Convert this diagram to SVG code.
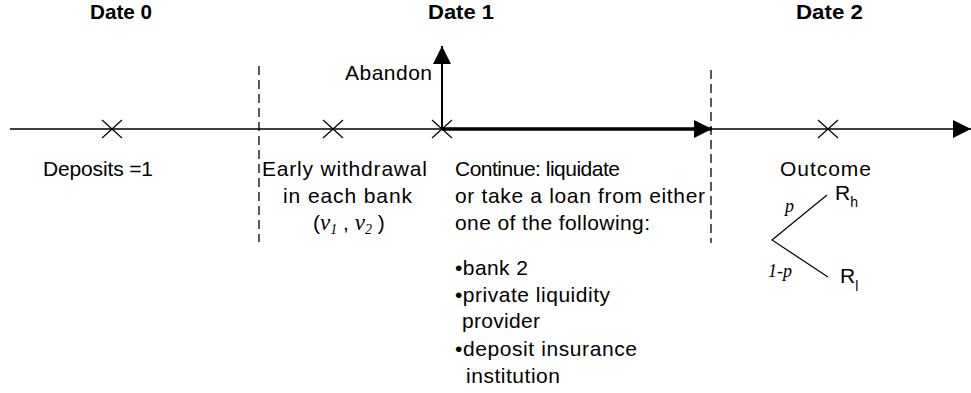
<svg xmlns="http://www.w3.org/2000/svg" width="971" height="393" viewBox="0 0 971 393">
<style>
  text { font-family: "Liberation Sans", Arial, sans-serif; font-size: 21px; fill: #000; }
  .date { font-weight: bold; font-size: 20px; }
  .axis { stroke: #000; stroke-width: 1.5; fill: none; }
  .thick { stroke: #000; stroke-width: 3.5; fill: none; }
  .dash { stroke: #000; stroke-width: 1.3; stroke-dasharray: 9 5; fill: none; }
  .cross { stroke: #000; stroke-width: 1.2; fill: none; }
  .tree { stroke: #000; stroke-width: 1.2; fill: none; }
  .math { font-family: "Liberation Serif", "Times New Roman", serif; font-style: italic; }
  .small { font-size: 18px; }
  .sub { font-size: 14px; }
</style>
<defs>
  <marker id="ah" markerWidth="18" markerHeight="18" viewBox="0 0 18 18" refX="18" refY="9" orient="auto" markerUnits="userSpaceOnUse">
    <path d="M0,0 L18,9 L0,18 Z" fill="#000"/>
  </marker>
</defs>

<g id="date-labels">
  <text class="date" x="90" y="19" textLength="62" lengthAdjust="spacingAndGlyphs">Date 0</text>
  <text class="date" x="428" y="19" textLength="66" lengthAdjust="spacingAndGlyphs">Date 1</text>
  <text class="date" x="796" y="19" textLength="67" lengthAdjust="spacingAndGlyphs">Date 2</text>
</g>

<g id="connectors">
  <line class="axis" x1="10" y1="129" x2="971" y2="129" marker-end="url(#ah)"/>
  <line class="thick" x1="442" y1="129" x2="712" y2="129" marker-end="url(#ah)"/>
  <line x1="442" y1="129" x2="442" y2="46" stroke="#000" stroke-width="2" marker-end="url(#ah)"/>
  <line class="dash" x1="259" y1="66" x2="259" y2="242"/>
  <line class="dash" x1="711" y1="70" x2="711" y2="243"/>
</g>

<g id="crosses">
  <path class="cross" d="M102,120 L122,138 M102,138 L122,120"/>
  <path class="cross" d="M323,120 L343,138 M323,138 L343,120"/>
  <path class="cross" d="M432,120 L452,138 M432,138 L452,120"/>
  <path class="cross" d="M818,120 L838,138 M818,138 L838,120"/>
</g>

<g id="abandon">
  <text x="345" y="80" textLength="87">Abandon</text>
</g>

<g id="deposits">
  <text x="43" y="176" textLength="110">Deposits =1</text>
</g>

<g id="early-withdrawal">
  <text x="262" y="176" textLength="165">Early withdrawal</text>
  <text x="283" y="203" textLength="129">in each bank</text>
  <text x="313" y="230">(<tspan class="math" font-size="23px">v</tspan><tspan class="math sub" dy="4">1</tspan><tspan dy="-4"> , </tspan><tspan class="math" font-size="23px">v</tspan><tspan class="math sub" dy="4">2</tspan><tspan dy="-4"> )</tspan></text>
</g>

<g id="continue">
  <text x="455" y="176" textLength="165">Continue: liquidate</text>
  <text x="455" y="203" textLength="250">or take a loan from either</text>
  <text x="455" y="230" textLength="195">one of the following:</text>
  <text x="455" y="275" textLength="73">•bank 2</text>
  <text x="455" y="302" textLength="155">•private liquidity</text>
  <text x="462" y="328" textLength="78">provider</text>
  <text x="455" y="356" textLength="182">•deposit insurance</text>
  <text x="466" y="383" textLength="94">institution</text>
</g>

<g id="outcome">
  <text x="780" y="176" textLength="91">Outcome</text>
  <path class="tree" d="M827,195 L772,240 L828,277"/>
  <text class="math small" x="785" y="212">p</text>
  <text class="math small" x="768" y="277">1-p</text>
  <text x="835" y="200">R<tspan class="sub" dy="7">h</tspan></text>
  <text x="840" y="283">R<tspan class="sub" dy="8">l</tspan></text>
</g>
</svg>
